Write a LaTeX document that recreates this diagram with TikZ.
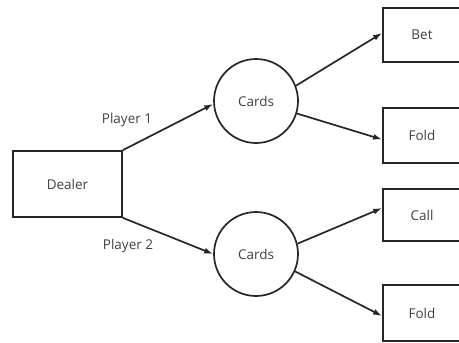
\documentclass[tikz,border=0pt]{standalone}
\usepackage{fontspec}
\setmainfont{Open Sans}
\usetikzlibrary{arrows.meta,calc}
\begin{document}
\begin{tikzpicture}[x=1pt,y=-1pt,
  lbl/.style={font=\fontsize{13.5}{15}\selectfont, text=black!75},
  boxnode/.style={draw=black!85, line width=1.7pt, rectangle, inner sep=0pt, lbl},
  cardnode/.style={draw=black!85, line width=1.7pt, circle, minimum size=84pt, inner sep=0pt, lbl},
  conn/.style={draw=black!85, line width=1.7pt, -{Latex[length=9pt,width=6pt]}}]
\useasboundingbox (0,0) rectangle (459,343);
\clip (0,0) rectangle (459,343);
\node[boxnode, minimum width=109pt, minimum height=66pt] (dealer) at (67.5,184) {Dealer};
\node[cardnode] (c1) at (256,101) {Cards};
\node[cardnode] (c2) at (256,254) {Cards};
\node[boxnode, minimum width=78pt, minimum height=54pt] (bet) at (422,35) {Bet};
\node[boxnode, minimum width=78pt, minimum height=55pt] (fold1) at (422,135.5) {Fold};
\node[boxnode, minimum width=78pt, minimum height=52pt] (call) at (422,215) {Call};
\node[boxnode, minimum width=78pt, minimum height=56pt] (fold2) at (422,313) {Fold};
\node[lbl] (p1) at (127,120) {Player 1};
\node[lbl] (p2) at (128,246) {Player 2};
\draw[conn] (dealer.north east) -- (c1.184);
\draw[conn] (dealer.south east) -- (c2.west);
\draw[conn] (c1.21) -- ($(bet.west)+(0,-2)$);
\draw[conn] (c1.-17) -- ($(fold1.west)+(0,4)$);
\draw[conn] (c2.14) -- ($(call.west)+(0,-7)$);
\draw[conn] (c2.-24) -- ($(fold2.west)+(0,3)$);
\end{tikzpicture}
\end{document}
